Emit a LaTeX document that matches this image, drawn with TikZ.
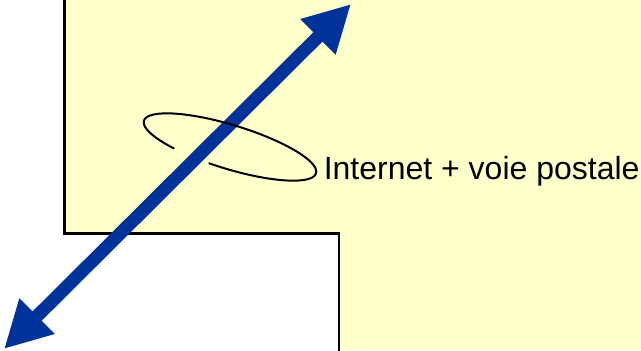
\documentclass[tikz,border=0pt]{standalone}
\usepackage{fontspec}
\setmainfont{Liberation Sans}
\usetikzlibrary{arrows.meta}
\definecolor{paleyellow}{HTML}{FFFFCC}
\definecolor{arrowblue}{HTML}{003399}
\tikzset{
  outline/.style={line width=1.7pt, black},
  bigarrow/.style={line width=9.8pt, arrowblue, {Triangle[length=35pt,width=35pt]}-{Triangle[length=35pt,width=35pt]}},
  ring/.style={line width=1.5pt, black},
  label/.style={font=\fontsize{24pt}{28pt}\selectfont, inner sep=0pt, anchor=base west}
}
\begin{document}
\begin{tikzpicture}[x=0.75pt,y=-0.75pt]
\useasboundingbox (0,0) rectangle (641,350);
\fill[paleyellow] (64.5,0) -- (641,0) -- (641,350) -- (338.7,350) -- (338.7,233.5) -- (64.5,233.5) -- cycle;
\draw[outline] (64.5,-2) -- (64.5,233.5) -- (338.7,233.5) -- (338.7,352);
\coordinate (low) at (4,349);
\coordinate (high) at (351,4);
\draw[bigarrow] (low) -- (high);
\draw[ring] plot[domain=126:460,samples=120,smooth] ({230+90*cos(\x)*0.956-22*sin(\x)*0.292},{147+90*cos(\x)*0.292+22*sin(\x)*0.956});
\node[label] (lbl) at (323.5,179) {Internet + voie postale};
\end{tikzpicture}
\end{document}
